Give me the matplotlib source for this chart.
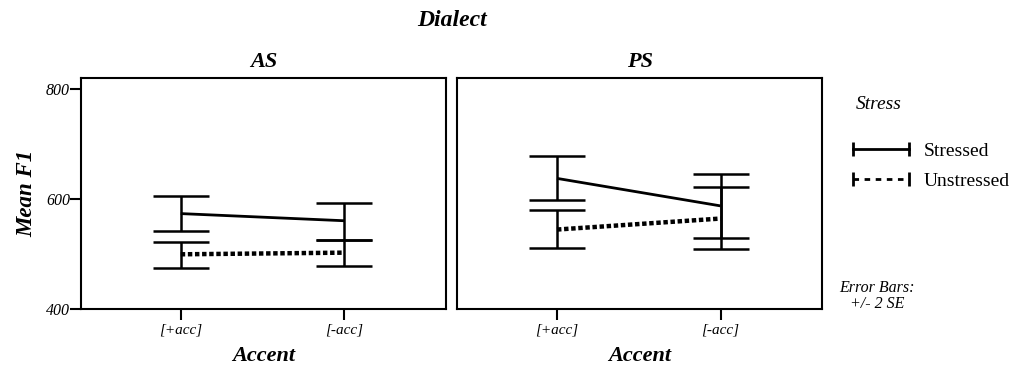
import numpy as np
import matplotlib.pyplot as plt
from matplotlib.lines import Line2D

plt.rcParams['font.family'] = 'Liberation Serif'

accent = ['[+acc]', '[-acc]']
dialects = ['AS', 'PS']

# means and error bar ends (+/- 2 SE)
stressed_mean = {'AS': [574, 561], 'PS': [638, 588]}
stressed_lo = {'AS': [542, 526], 'PS': [599, 529]}
stressed_hi = {'AS': [606, 594], 'PS': [679, 646]}
unstressed_mean = {'AS': [500, 503], 'PS': [545, 565]}
unstressed_lo = {'AS': [476, 478], 'PS': [511, 509]}
unstressed_hi = {'AS': [522, 526], 'PS': [580, 622]}

fig = plt.figure(figsize=[10.16, 3.72], dpi=100)
ax1 = fig.add_axes([0.0797, 0.1685, 0.359, 0.6226])
ax2 = fig.add_axes([0.450, 0.1685, 0.359, 0.6226])

x = np.arange(len(accent))
for ax, d in zip([ax1, ax2], dialects):
    for mean, lo, hi, ls, lw in [
            (stressed_mean[d], stressed_lo[d], stressed_hi[d], '-', 2),
            (unstressed_mean[d], unstressed_lo[d], unstressed_hi[d], (0, (1, 0.6)), 3.2)]:
        mean = np.array(mean); lo = np.array(lo); hi = np.array(hi)
        ax.plot(x, mean, color='black', linestyle=ls, linewidth=lw,
                dash_capstyle='butt', solid_capstyle='butt')
        ax.errorbar(x, mean, yerr=[mean - lo, hi - mean], fmt='none',
                    ecolor='black', elinewidth=1.8, capsize=20, capthick=1.8)
    ax.set_xlim(-0.61, 1.62)
    ax.set_ylim(400, 821)
    ax.set_xticks(x)
    ax.set_xticklabels(accent, fontstyle='italic', fontsize=11)
    ax.tick_params(axis='x', direction='out', length=8, width=1.5, pad=2)
    ax.set_title(d, fontsize=16, fontweight='bold', fontstyle='italic', pad=8)
    ax.set_xlabel('Accent', fontsize=16, fontweight='bold', fontstyle='italic',
                  labelpad=7)
    for s in ax.spines.values():
        s.set_linewidth(1.5)

ax1.set_yticks([400, 600, 800])
ax1.set_yticklabels(['400', '600', '800'], fontstyle='italic', fontsize=11.5)
ax1.tick_params(axis='y', direction='out', length=8, width=1.5, pad=0)
ax1.set_ylabel('Mean F1', fontsize=16.5, fontweight='bold', fontstyle='italic',
               labelpad=6)
ax2.set_yticks([])

fig.text(0.445, 0.945, 'Dialect', ha='center', va='center', fontsize=17,
         fontweight='bold', fontstyle='italic')

# legend
fig.text(0.842, 0.72, 'Stress', ha='left', va='center', fontsize=14,
         fontstyle='italic')
handles = [Line2D([], [], color='black', linestyle='-', linewidth=2,
                  marker='|', markersize=10, markeredgewidth=2),
           Line2D([], [], color='black', linestyle=(0, (2, 2)), linewidth=2,
                  marker='|', markersize=10, markeredgewidth=2)]
fig.legend(handles, ['Stressed', 'Unstressed'], loc='upper left',
           bbox_to_anchor=(0.8165, 0.664), frameon=False, fontsize=14,
           numpoints=2, handlelength=3.5, handletextpad=0.45, labelspacing=0.62)

fig.text(0.863, 0.203, 'Error Bars:\n+/- 2 SE', ha='center', va='center',
         fontsize=11.5, fontstyle='italic', linespacing=1.0)

plt.savefig('out.png')
